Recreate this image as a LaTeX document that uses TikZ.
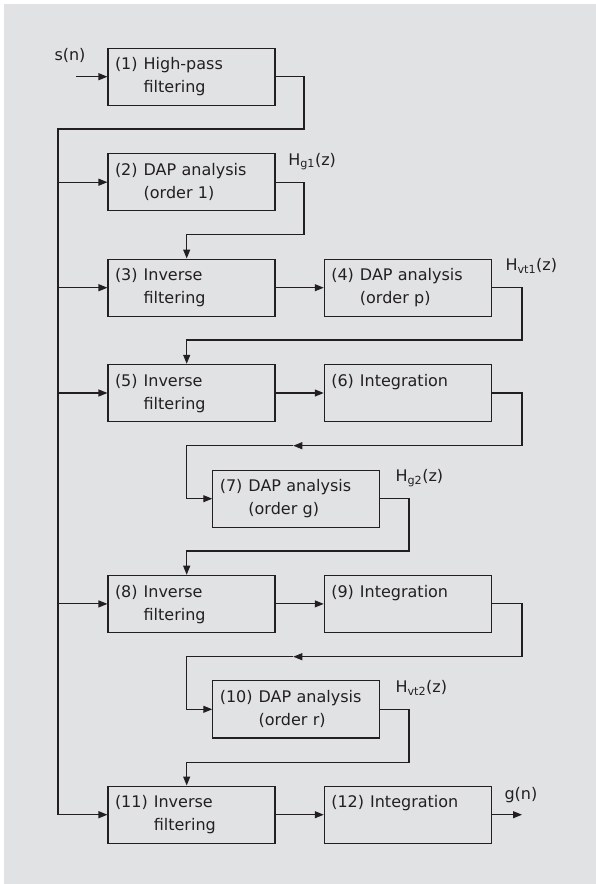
\documentclass[tikz,border=0pt]{standalone}
\usepackage{fontspec}
\setmainfont{DejaVu Sans}
\usetikzlibrary{arrows.meta,calc}
\definecolor{bgc}{RGB}{225,226,228}
\definecolor{ink}{RGB}{35,31,32}
\tikzset{
 blk/.style={draw=ink, line width=1.1pt, minimum width=167pt, minimum height=57.3pt, inner xsep=7pt, inner ysep=0pt, text width=153pt, align=left, text=ink, font=\fontsize{16}{23}\selectfont},
 wire/.style={draw=ink, line width=1.1pt},
 arr/.style={wire, -{Triangle[length=9pt,width=7pt]}},
 lbl/.style={text=ink, font=\fontsize{16}{19}\selectfont, inner sep=0pt, anchor=base west},
}
\newcommand{\blktext}[3]{\begin{tabular}{@{}l@{\hspace{6pt}}l@{}}#1 & #2\\ & #3\end{tabular}}
\begin{document}
\begin{tikzpicture}[x=1pt,y=-1pt]
\useasboundingbox (0,0) rectangle (596,884);
\fill[white] (0,0) rectangle (596,884);
\fill[bgc] (4,4) rectangle (600,890);
% blocks
\node[blk] (b1) at (191.5,76.7) {\blktext{(1)}{High-pass}{filtering}};
\node[blk] (b2) at (191.5,182.2) {\blktext{(2)}{DAP analysis}{(order 1)}};
\node[blk] (b3) at (191.5,287.7) {\blktext{(3)}{Inverse}{filtering}};
\node[blk] (b4) at (407.8,287.7) {\blktext{(4)}{DAP analysis}{(order p)}};
\node[blk] (b5) at (191.5,393) {\blktext{(5)}{Inverse}{filtering}};
\node[blk] (b6) at (407.8,393) {\blktext{(6)}{Integration}{}};
\node[blk] (b7) at (296.3,498.7) {\blktext{(7)}{DAP analysis}{(order g)}};
\node[blk] (b8) at (191.5,603.9) {\blktext{(8)}{Inverse}{filtering}};
\node[blk] (b9) at (407.8,603.9) {\blktext{(9)}{Integration}{}};
\node[blk] (b10) at (296.3,709.3) {\blktext{(10)}{DAP analysis}{(order r)}};
\node[blk] (b11) at (191.5,814.7) {\blktext{(11)}{Inverse}{filtering}};
\node[blk] (b12) at (407.8,814.7) {\blktext{(12)}{Integration}{}};
% labels
\node[lbl] (sn) at (54.3,60.5) {s(n)};
\node[lbl] (hg1) at ($(b2.north east)+(12.5,12.3)$) {H\textsubscript{g1}(z)};
\node[lbl] (hvt1) at ($(b4.north east)+(13.5,12.3)$) {H\textsubscript{vt1}(z)};
\node[lbl] (hg2) at ($(b7.north east)+(15,12.3)$) {H\textsubscript{g2}(z)};
\node[lbl] (hvt2) at ($(b10.north east)+(15,12.3)$) {H\textsubscript{vt2}(z)};
\node[lbl] (gn) at (504.3,799) {g(n)};
% connectors
\coordinate (sin) at (76,76.7);
\draw[arr] (sin) -- (b1.west);
\coordinate (r1) at (304,129);
\coordinate (bus) at (58,129);
\draw[arr] (b1.east) -| (r1) -- (bus) |- (b11.west);
\draw[arr] (b2.west -| bus) -- (b2.west);
\draw[arr] (b3.west -| bus) -- (b3.west);
\draw[arr] (b5.west -| bus) -- (b5.west);
\draw[arr] (b8.west -| bus) -- (b8.west);
\coordinate (r2) at (304,234.7);
\coordinate (k3) at (186.7,234.7);
\draw[arr] (b2.east) -| (r2) -- (k3) -- (k3 |- b3.north);
\draw[arr] (b3.east) -- (b4.west);
\coordinate (r4) at (522,340);
\coordinate (k5) at (186.7,340);
\draw[arr] (b4.east) -| (r4) -- (k5) -- (k5 |- b5.north);
\draw[arr] (b5.east) -- (b6.west);
\coordinate (r6) at (522,445.7);
\coordinate (m6) at (293.3,445.7);
\coordinate (k7) at (186.7,445.7);
\draw[arr] (b6.east) -| (r6) -- (m6);
\draw[arr] (m6) -- (k7) |- (b7.west);
\coordinate (r7) at (409,551);
\coordinate (k8) at (186.7,551);
\draw[arr] (b7.east) -| (r7) -- (k8) -- (k8 |- b8.north);
\draw[arr] (b8.east) -- (b9.west);
\coordinate (r9) at (522,656.7);
\coordinate (m9) at (293.3,656.7);
\coordinate (k10) at (186.7,656.7);
\draw[arr] (b9.east) -| (r9) -- (m9);
\draw[arr] (m9) -- (k10) |- (b10.west);
\coordinate (r10) at (409,762.3);
\coordinate (k11) at (186.7,762.3);
\draw[arr] (b10.east) -| (r10) -- (k11) -- (k11 |- b11.north);
\draw[arr] (b11.east) -- (b12.west);
\coordinate (gout) at (522,814.7);
\draw[arr] (b12.east) -- (gout);
\end{tikzpicture}
\end{document}
